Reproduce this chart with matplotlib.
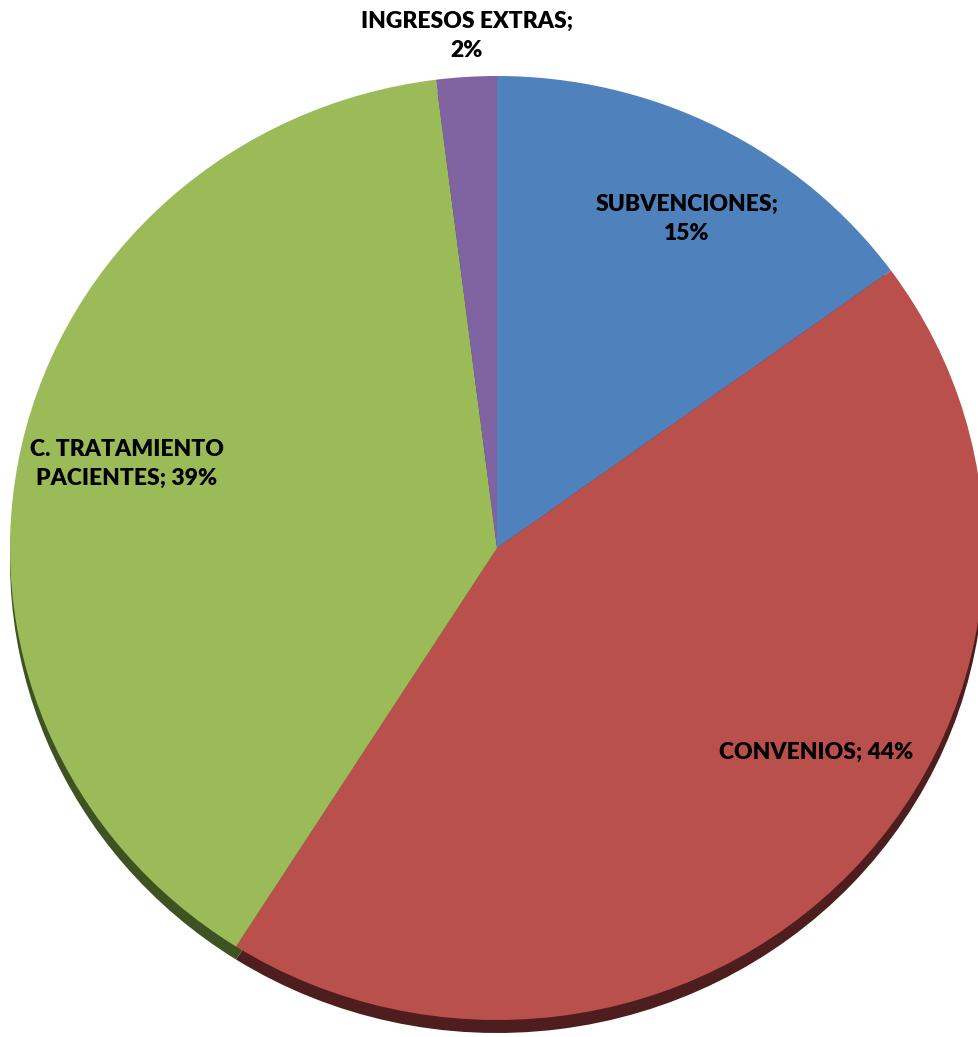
import matplotlib
matplotlib.use("Agg")
from matplotlib import pyplot as plt

# data
labels = ["SUBVENCIONES", "CONVENIOS", "C. TRATAMIENTO\nPACIENTES", "INGRESOS EXTRAS"]
values = [15, 44, 39, 2]
colors = ["#4F81BD", "#B9504C", "#9BBB59", "#8064A2"]
side_colors = ["#2C4A6E", "#4E1E1E", "#3F5222", "#4A3A60"]

W, H = 979, 1037
cx, cy = 497, 548      # ellipse centre, pixels
rx, ry = 487, 472      # ellipse radii, pixels
depth = 13

fig = plt.figure(figsize=(W / 100, H / 100), dpi=100)
ax = fig.add_axes([0, 0, 1, 1])

# side of the tilted pie (shifted down)
ax.pie(values, colors=side_colors, startangle=90, counterclock=False,
       center=(0, -depth / ry), wedgeprops=dict(linewidth=0))
# top face
ax.pie(values, colors=colors, startangle=90, counterclock=False,
       wedgeprops=dict(linewidth=0))

ax.set_aspect("auto")
ax.set_xlim(-cx / rx, (W - cx) / rx)
ax.set_ylim((cy - H) / ry, cy / ry)
ax.axis("off")


def px(x, y):
    return ((x - cx) / rx, (cy - y) / ry)


font = dict(family=["Lato", "DejaVu Sans"], fontsize=16.5, fontweight="heavy",
            ha="center", va="center", color="black", linespacing=1.45)

ax.text(*px(687, 219), labels[0] + ";\n" + str(values[0]) + "%", **font)
ax.text(*px(816, 752), labels[1] + "; " + str(values[1]) + "%", **font)
ax.text(*px(127, 464), labels[2] + "; " + str(values[2]) + "%", **font)
ax.text(*px(467, 36), labels[3] + ";\n" + str(values[3]) + "%", **font)

fig.savefig("out.png", dpi=100)
